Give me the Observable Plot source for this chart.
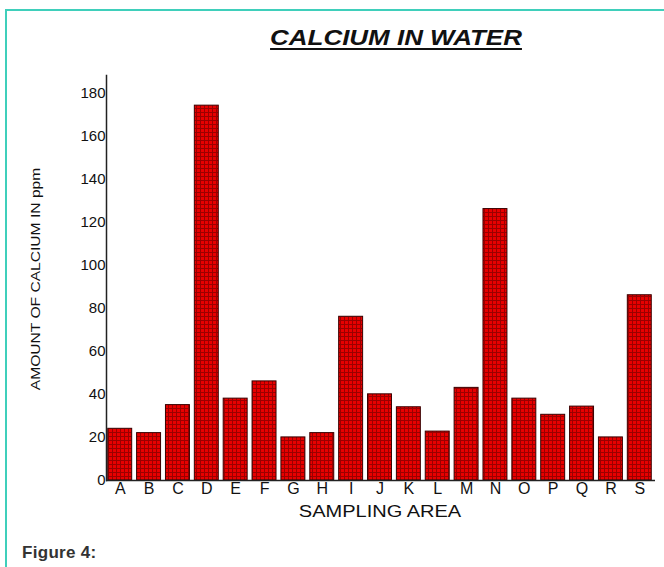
<!DOCTYPE html>
<html><head><meta charset="utf-8">
<script src="https://cdn.jsdelivr.net/npm/d3@7"></script>
<script src="https://cdn.jsdelivr.net/npm/@observablehq/plot@0.6"></script>
<style>
body{margin:0;background:#fff;font-family:"Liberation Sans",Arial,sans-serif;}
#wrap{position:relative;width:664px;height:567px;overflow:hidden;background:#fff;}
#border{position:absolute;left:5px;top:9px;width:680px;height:600px;border-left:2px solid #3fcfbb;border-top:2px solid #3fcfbb;}
#title{position:absolute;top:25px;left:396px;transform:translateX(-50%) scaleX(1.18);font-size:22px;font-weight:bold;font-style:italic;text-decoration:underline;text-decoration-thickness:2px;text-underline-offset:3px;color:#111;white-space:nowrap;}
#chart{position:absolute;left:0;top:60px;}
#xlabel{position:absolute;top:503px;left:380px;transform:translateX(-50%) scaleX(1.25);font-size:16px;color:#111;white-space:nowrap;}
#ylabel{position:absolute;left:35px;top:279px;transform:translate(-50%,-50%) rotate(-90deg) scaleX(1.2);font-size:13px;color:#111;white-space:nowrap;}
#caption{position:absolute;left:22px;top:543px;font-size:17px;letter-spacing:0.3px;font-weight:bold;color:#333;}
</style></head>
<body>
<svg width="0" height="0" style="position:absolute">
<defs>
<pattern id="grid" width="4" height="4" patternUnits="userSpaceOnUse">
<rect width="4" height="4" fill="#e80000"/>
<path d="M0 0.5H4M0.5 0V4" stroke="#7a0000" stroke-width="1" opacity="0.7"/>
</pattern>
</defs>
</svg>
<div id="wrap">
<div id="border"></div>
<div id="title">CALCIUM IN WATER</div>
<div id="chart"></div>
<div id="ylabel">AMOUNT OF CALCIUM IN ppm</div>
<div id="xlabel">SAMPLING AREA</div>
<div id="caption">Figure 4:</div>
</div>
<script>
const areas = ["A","B","C","D","E","F","G","H","I","J","K","L","M","N","O","P","Q","R","S"];
const calcium = [24,22,35,174,38,46,20,22,76,40,34,22.7,43,126,38,30.5,34.3,20,86];
const yTicks = [0,20,40,60,80,100,120,140,160,180];

const data = areas.map((a,i)=>({area:a, value:calcium[i]}));

const chart = Plot.plot({
  width: 664,
  height: 470,
  marginLeft: 106,
  marginRight: 11,
  marginTop: 15,
  marginBottom: 50,
  style: {fontFamily: '"Liberation Sans", Arial, sans-serif', color: "#111", background: "transparent"},
  x: {domain: areas, paddingInner: 0.17, paddingOuter: 0.06, round: false, label: null},
  y: {domain: [0, 188], label: null},
  marks: [
    Plot.barY(data, {x: "area", y: "value", fill: "url(#grid)", stroke: "#3a0000", strokeWidth: 1}),
    Plot.axisY({ticks: yTicks, tickSize: 0, tickPadding: 1, fontSize: 15, label: null}),
    Plot.axisX({tickSize: 0, tickPadding: 2, fontSize: 16, label: null}),
    Plot.frame({anchor: "left", stroke: "#222", strokeWidth: 1.5}),
    Plot.ruleY([0], {stroke: "#222", strokeWidth: 1.5, insetRight: -2})
  ]
});
document.getElementById("chart").appendChild(chart);
</script>
</body></html>
